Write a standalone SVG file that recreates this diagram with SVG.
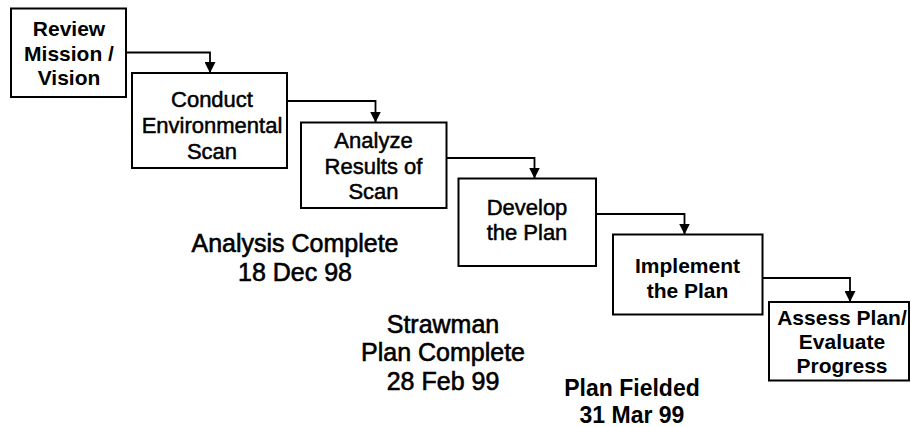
<svg xmlns="http://www.w3.org/2000/svg" width="911" height="427" viewBox="0 0 911 427">
  <style>
    .box { fill: #ffffff; stroke: #000000; stroke-width: 2; }
    .link { fill: none; stroke: #000000; stroke-width: 1.8; }
    text { font-family: "Liberation Sans", Arial, sans-serif; fill: #000000; text-anchor: middle; }
    .t { font-size: 22px; stroke: #000000; stroke-width: 0.5; }
    .tb { font-size: 21px; font-weight: bold; }
    .lbl { font-size: 25px; stroke: #000000; stroke-width: 0.6; }
    .lblb { font-size: 23px; font-weight: bold; }
  </style>
  <defs>
    <marker id="head" viewBox="0 0 10 10" refX="10" refY="5" markerWidth="11" markerHeight="11" markerUnits="userSpaceOnUse" orient="auto">
      <path d="M0,0 L10,5 L0,10 z" fill="#000000"/>
    </marker>
  </defs>
  <rect width="911" height="427" fill="#ffffff"/>

  <!-- step-to-step connectors -->
  <g id="connectors">
    <path class="link" d="M126,52.5 H210 V73" marker-end="url(#head)"/>
    <path class="link" d="M287,101 H375.5 V122.5" marker-end="url(#head)"/>
    <path class="link" d="M446.5,158 H534.5 V178.5" marker-end="url(#head)"/>
    <path class="link" d="M596,214 H684.5 V234.5" marker-end="url(#head)"/>
    <path class="link" d="M762.5,278 H850 V302" marker-end="url(#head)"/>
  </g>

  <g id="review">
    <rect class="box" x="11" y="8.5" width="115" height="88.5"/>
    <text class="tb" x="69" y="36">Review</text>
    <text class="tb" x="69" y="60.5">Mission /</text>
    <text class="tb" x="69" y="85">Vision</text>
  </g>

  <g id="scan">
    <rect class="box" x="132" y="73" width="155" height="95"/>
    <text class="t" x="212" y="106.5">Conduct</text>
    <text class="t" x="212" y="133">Environmental</text>
    <text class="t" x="212" y="159">Scan</text>
  </g>

  <g id="analyze">
    <rect class="box" x="301" y="122.5" width="145.5" height="85.5"/>
    <text class="t" x="373.5" y="148">Analyze</text>
    <text class="t" x="373.5" y="173.5">Results of</text>
    <text class="t" x="373.5" y="199">Scan</text>
  </g>

  <g id="develop">
    <rect class="box" x="458.5" y="178.5" width="137.5" height="87.5"/>
    <text class="t" x="527" y="215">Develop</text>
    <text class="t" x="527" y="240">the Plan</text>
  </g>

  <g id="implement">
    <rect class="box" x="613" y="234.5" width="149.5" height="80"/>
    <text class="tb" x="687.5" y="272.5">Implement</text>
    <text class="tb" x="687.5" y="297.5">the Plan</text>
  </g>

  <g id="assess">
    <rect class="box" x="769" y="302" width="140" height="78.5"/>
    <text class="tb" x="842" y="325">Assess Plan/</text>
    <text class="tb" x="842" y="349">Evaluate</text>
    <text class="tb" x="842" y="373">Progress</text>
  </g>

  <!-- milestone notes -->
  <g id="milestone-analysis">
    <text class="lbl" x="295" y="252">Analysis Complete</text>
    <text class="lbl" x="295" y="281">18 Dec 98</text>
  </g>
  <g id="milestone-strawman">
    <text class="lbl" x="443" y="333">Strawman</text>
    <text class="lbl" x="443" y="361">Plan Complete</text>
    <text class="lbl" x="443" y="389.5">28 Feb 99</text>
  </g>
  <g id="milestone-fielded">
    <text class="lblb" x="632" y="396">Plan Fielded</text>
    <text class="lblb" x="632" y="423">31 Mar 99</text>
  </g>
</svg>
